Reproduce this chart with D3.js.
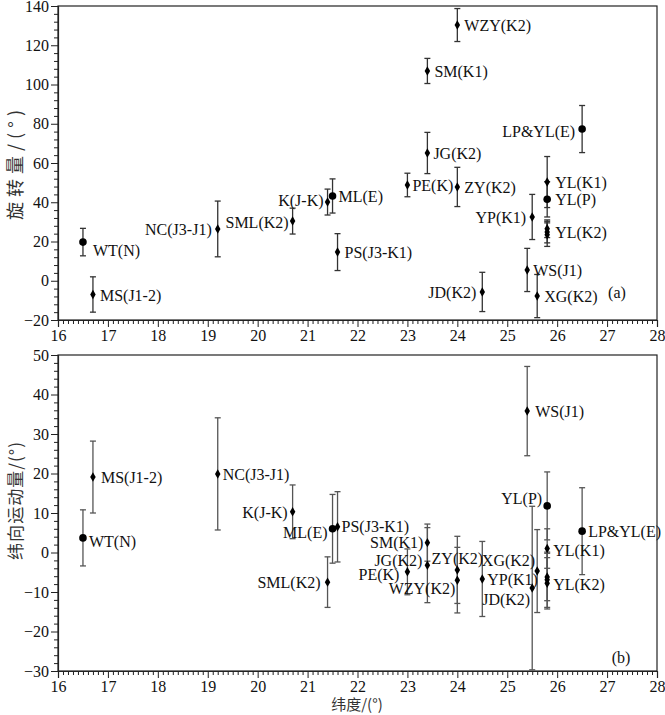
<!DOCTYPE html>
<html><head><meta charset="utf-8">
<script src="https://cdn.jsdelivr.net/npm/d3@7"></script>
<style>body{margin:0;background:#fff} .sf{font-family:"Liberation Serif","DejaVu Serif",serif}</style>
</head><body><svg id="c" width="665" height="715"></svg>
<script>
// ---------- data ----------
const xTicks = [16,17,18,19,20,21,22,23,24,25,26,27,28];
const yTicksA = [-20,0,20,40,60,80,100,120,140];
const yTicksB = [-30,-20,-10,0,10,20,30,40,50];

const sitesA = ["WT(N)","MS(J1-2)","NC(J3-J1)","SML(K2)","K(J-K)","ML(E)","PS(J3-K1)","PE(K)","SM(K1)","JG(K2)","WZY(K2)","ZY(K2)","JD(K2)","WS(J1)","YP(K1)","XG(K2)","YL(K1)","YL(P)","YL(K2)","YL(K2)","YL(K2)","LP&YL(E)"];
const latA   = [16.5,16.7,19.2,20.7,21.4,21.5,21.6,23.0,23.4,23.4,24.0,24.0,24.5,25.4,25.5,25.6,25.8,25.8,25.8,25.8,25.8,26.5];
const rotA   = [19.7,-7,26.4,30.4,40.1,43.2,14.6,48.8,106.9,65.1,130.3,47.8,-5.7,5.5,32.5,-7.8,50.3,41.5,26.5,24.8,23.5,77.3];
const errA   = [7,9,14.2,6.6,6.6,8.7,9.4,6,6.4,10.5,8.4,10,10,11,11.5,11,13,9,4.5,5.5,6,12];

const sitesB = ["WT(N)","MS(J1-2)","NC(J3-J1)","K(J-K)","SML(K2)","ML(E)","PS(J3-K1)","PE(K)","SM(K1)","JG(K2)","ZY(K2)","WZY(K2)","YP(K1)","WS(J1)","JD(K2)","XG(K2)","YL(P)","YL(K1)","YL(K2)","YL(K2)","YL(K2)","LP&YL(E)"];
const latB   = [16.5,16.7,19.2,20.7,21.4,21.5,21.6,23.0,23.4,23.4,24.0,24.0,24.5,25.4,25.5,25.6,25.8,25.8,25.8,25.8,25.8,26.5];
const movB   = [3.7,19.1,19.9,10.3,-7.5,6,6.5,-4.9,2.5,-3.2,-4.4,-7,-6.7,35.8,-9,-4.7,11.8,1,-6.2,-6.9,-7.8,5.4];
const errB   = [7.1,9.1,14.2,6.8,6.4,8.7,8.9,5.8,4.7,9.5,8.5,8.3,9.5,11.3,20.7,10.5,8.6,5,6,7,6.5,11];

// ---------- layout (label placement: anchor, dx, dy) ----------
const labA = [["start",10,8],["start",7,1],["end",-6,0],["end",-4,1],["end",-4,-2],["start",6,0],["start",7,0],["start",5,0],["start",7,0],["start",6,0],["start",7,0],["start",7,0],["end",-6,0],["start",6,0],["end",-6,0],["start",7,0],["start",8,0],["start",8,0],null,["start",8,0],null,["end",-7,2]];
const labB = [["start",6,3],["start",8,0],["start",5,0],["end",-5,0],["end",-7,0],["end",-5,3],["start",4,-1],["end",-8,2],["end",-4,0],["end",-5,-5],["middle",0,-12],["end",-2,8],["start",5,0],["start",8,0],["end",-2,11],["end",-2,-11],["end",-5,-8],["start",6,2],["start",6,7],null,null,["start",6,0]];

const svg = d3.select("#c");
const X0 = 58, X1 = 657;
const x = d3.scaleLinear().domain([16,28]).range([X0,X1]);
const cjk = "Noto Sans CJK SC";

function panel(opts){
  const y = d3.scaleLinear().domain(opts.domain).range([opts.bottom, opts.top]);
  const g = svg.append("g");
  g.append("rect").attr("x",X0).attr("y",opts.top).attr("width",X1-X0).attr("height",opts.bottom-opts.top)
    .attr("fill","none").attr("stroke","#222").attr("stroke-width",1.2);
  const minorX = d3.range(160,281).map(d=>d/10).filter(d=>Math.abs(d-Math.round(d))>1e-6);
  g.append("g").attr("transform",`translate(0,${opts.bottom})`)
    .call(d3.axisBottom(x).tickValues(minorX).tickSize(4).tickFormat(""))
    .call(a=>a.select(".domain").remove());
  g.append("g").attr("transform",`translate(0,${opts.bottom})`)
    .call(d3.axisBottom(x).tickValues(xTicks).tickSize(7).tickPadding(3).tickFormat(d3.format("d")))
    .call(a=>a.select(".domain").attr("stroke","#222").attr("stroke-width",1.2));
  const minorY = d3.range(opts.domain[0], opts.domain[1]+1e-9, opts.minor).filter(v=>opts.ticks.indexOf(v)<0);
  g.append("g").attr("transform",`translate(${X0},0)`)
    .call(d3.axisLeft(y).tickValues(minorY).tickSize(4).tickFormat(""))
    .call(a=>a.select(".domain").remove());
  g.append("g").attr("transform",`translate(${X0},0)`)
    .call(d3.axisLeft(y).tickValues(opts.ticks).tickSize(7).tickPadding(2).tickFormat(d3.format("d")))
    .call(a=>a.select(".domain").attr("stroke","#222").attr("stroke-width",1.2));
  g.selectAll("g").attr("font-family",null);
  g.selectAll(".tick line").attr("stroke","#222");
  g.selectAll(".tick text").attr("class","sf").attr("font-size",16).attr("fill","#111");

  const eb = g.append("g").attr("stroke",opts.ebColor).attr("stroke-width",1.3).attr("fill","none");
  opts.lat.forEach((lat,i)=>{
    const cx = x(lat), v = opts.val[i], e = opts.err[i];
    const y1 = y(v+e), y2 = y(v-e);
    eb.append("line").attr("x1",cx).attr("x2",cx).attr("y1",y1).attr("y2",y2);
    eb.append("line").attr("x1",cx-3).attr("x2",cx+3).attr("y1",y1).attr("y2",y1);
    eb.append("line").attr("x1",cx-3).attr("x2",cx+3).attr("y1",y2).attr("y2",y2);
  });
  const mk = g.append("g").attr("fill","#000");
  opts.lat.forEach((lat,i)=>{
    const cx = x(lat), cy = y(opts.val[i]);
    const big = /\((N|E|P)\)$/.test(opts.sites[i]);
    if(big) mk.append("circle").attr("cx",cx).attr("cy",cy).attr("r",3.8);
    else mk.append("path").attr("d",d3.symbol(d3.symbolDiamond,26)()).attr("transform",`translate(${cx},${cy})`);
  });
  const lb = g.append("g").attr("class","sf").attr("font-size",16).attr("fill","#111");
  opts.lat.forEach((lat,i)=>{
    const L = opts.lab[i]; if(!L) return;
    lb.append("text").attr("x",x(lat)+L[1]).attr("y",y(opts.val[i])+L[2]).attr("dy","0.36em")
      .attr("text-anchor",L[0]).text(opts.sites[i]);
  });
  g.append("text").attr("x",opts.tagX).attr("y",opts.tagY).attr("class","sf").attr("font-size",16)
    .attr("fill","#111").attr("text-anchor","middle").attr("dy","0.36em").text(opts.tag);
  g.append("text").attr("transform",`translate(16,${opts.titleY}) rotate(-90)`).attr("text-anchor","middle")
    .attr("dy","0.36em").attr("font-family",cjk).attr("font-size",opts.titleSize).attr("fill","#333")
    .attr("textLength",opts.titleLen).attr("lengthAdjust","spacing").text(opts.title);
  return y;
}

panel({domain:[-20,140], top:6, bottom:320, ticks:yTicksA, minor:4, lat:latA, val:rotA, err:errA, sites:sitesA, lab:labA,
  ebColor:"#333", tag:"(a)", tagX:617, tagY:292, title:"旋转量/(°)", titleY:165, titleLen:110, titleSize:18});
panel({domain:[-30,50], top:355, bottom:671, ticks:yTicksB, minor:2, lat:latB, val:movB, err:errB, sites:sitesB, lab:labB,
  ebColor:"#555", tag:"(b)", tagX:621, tagY:657, title:"纬向运动量/(°)", titleY:501, titleLen:118, titleSize:17});

svg.append("text").attr("x",357).attr("y",705).attr("text-anchor","middle").attr("dy","0.36em")
  .attr("font-family",cjk).attr("font-size",15).attr("fill","#333").text("纬度/(°)");
</script></body></html>
